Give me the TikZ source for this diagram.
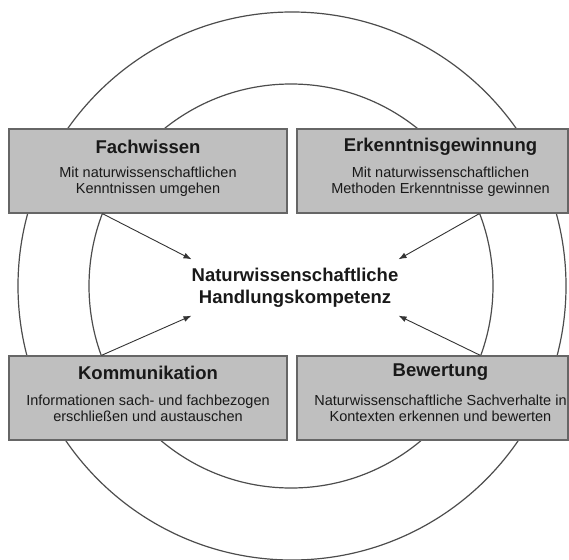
\documentclass[tikz,border=0pt]{standalone}
\usepackage{fontspec}
\setmainfont{Liberation Sans}
\usetikzlibrary{arrows.meta}

\tikzset{
    kbox/.style={draw=black!60, line width=1.2pt, fill=black!25, rectangle, inner sep=0pt, minimum height=84pt},
    ktitle/.style={font=\fontsize{18.5}{22}\selectfont\bfseries, text=black!90, inner sep=0pt},
    kdesc/.style={font=\fontsize{14.5}{15.5}\selectfont, text=black!90, align=center, inner sep=0pt},
    ring/.style={draw=black!70, line width=1.2pt},
    karrow/.style={draw=black!80, line width=0.9pt, -{Latex[length=8pt, width=6pt]}}
}

\begin{document}
\begin{tikzpicture}[x=1pt, y=-1pt]
    \useasboundingbox (0, 0) rectangle (569, 559);

    % the two rings
    \draw[ring] (292, 286) circle[radius=274];
    \draw[ring] (291, 286) circle[radius=202];

    % the four areas
    \node[kbox, minimum width=278pt] at (148, 171) (fw) {};
    \node[kbox, minimum width=271pt] at (432.5, 171) (ek) {};
    \node[kbox, minimum width=278pt] at (148, 398) (km) {};
    \node[kbox, minimum width=271pt] at (432.5, 398) (bw) {};

    \node[ktitle] at ([yshift=-18pt]fw.north) (fwt) {Fachwissen};
    \node[kdesc] at ([yshift=-53.5pt]fw.north) (fwd) {Mit naturwissenschaftlichen\\Kenntnissen umgehen};
    \node[ktitle] at ([xshift=8pt, yshift=-18pt]ek.north) (ekt) {Erkenntnisgewinnung};
    \node[kdesc] at ([xshift=8pt, yshift=-53.5pt]ek.north) (ekd) {Mit naturwissenschaftlichen\\Methoden Erkenntnisse gewinnen};
    \node[ktitle] at ([yshift=-17pt]km.north) (kmt) {Kommunikation};
    \node[kdesc] at ([yshift=-53pt]km.north) (kmd) {Informationen sach- und fachbezogen\\erschließen und austauschen};
    \node[ktitle] at ([xshift=8pt, yshift=-17pt]bw.north) (bwt) {Bewertung};
    \node[kdesc] at ([xshift=8pt, yshift=-53pt]bw.north) (bwd) {Naturwissenschaftliche Sachverhalte in\\Kontexten erkennen und bewerten};

    % the centre
    \node[font=\fontsize{18.5}{22}\selectfont\bfseries, text=black!90, align=center,
          inner sep=0pt, minimum width=204pt, minimum height=56pt] at (295, 287.5) (hk)
          {Naturwissenschaftliche\\Handlungskompetenz};

    \draw[karrow] ([xshift=94pt]fw.south west) -- (hk.north west);
    \draw[karrow] ([xshift=183pt]ek.south west) -- (hk.north east);
    \draw[karrow] ([xshift=93pt]km.north west) -- (hk.south west);
    \draw[karrow] ([xshift=184pt]bw.north west) -- (hk.south east);
\end{tikzpicture}
\end{document}
